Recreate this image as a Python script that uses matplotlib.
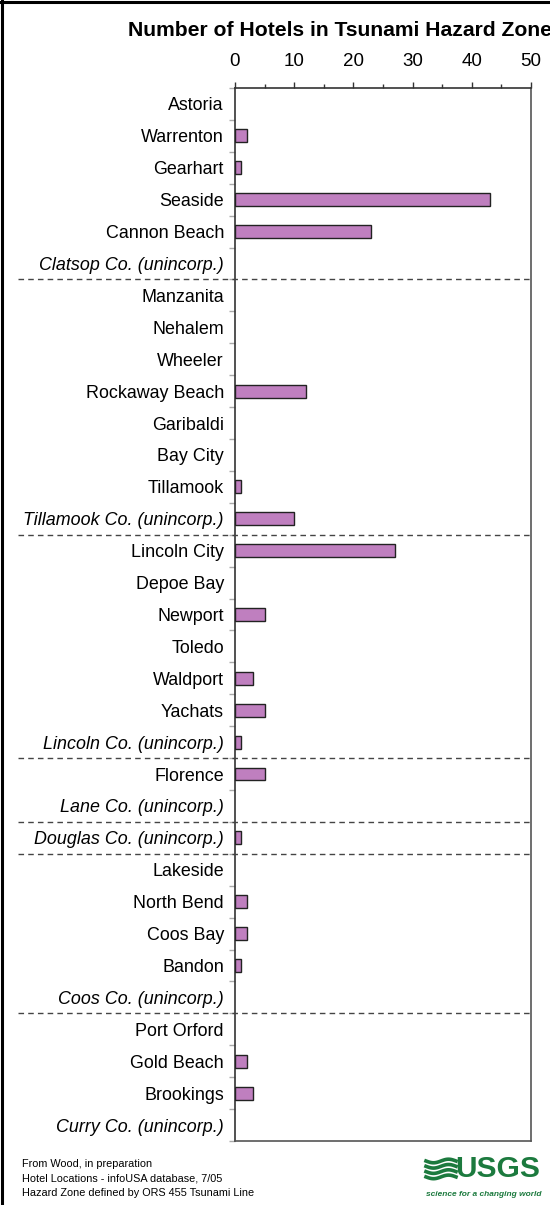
import matplotlib
matplotlib.use("Agg")
import matplotlib.pyplot as plt
import matplotlib.transforms as mtransforms
from matplotlib.lines import Line2D
import numpy as np

plt.rcParams['font.family'] = ['Liberation Sans', 'DejaVu Sans']

locations = ["Astoria", "Warrenton", "Gearhart", "Seaside", "Cannon Beach",
             "Clatsop Co. (unincorp.)",
             "Manzanita", "Nehalem", "Wheeler", "Rockaway Beach", "Garibaldi",
             "Bay City", "Tillamook", "Tillamook Co. (unincorp.)",
             "Lincoln City", "Depoe Bay", "Newport", "Toledo", "Waldport",
             "Yachats", "Lincoln Co. (unincorp.)",
             "Florence", "Lane Co. (unincorp.)",
             "Douglas Co. (unincorp.)",
             "Lakeside", "North Bend", "Coos Bay", "Bandon", "Coos Co. (unincorp.)",
             "Port Orford", "Gold Beach", "Brookings", "Curry Co. (unincorp.)"]
hotels = [0, 2, 1, 43, 23, 0,
          0, 0, 0, 12, 0, 0, 1, 10,
          27, 0, 5, 0, 3, 5, 1,
          5, 0,
          1,
          0, 2, 2, 1, 0,
          0, 2, 3, 0]
# index at which a new county group starts (dashed separator above it)
county_breaks = [6, 14, 21, 23, 24, 29]
x_ticks = [0, 10, 20, 30, 40, 50]

W, H = 550, 1205
fig = plt.figure(figsize=(W / 100, H / 100), dpi=100)

left, right, top, bottom = 235, 531, 88, 1141
ax = fig.add_axes([left / W, 1 - bottom / H, (right - left) / W, (bottom - top) / H])

n = len(locations)
y = np.arange(n)
lws = [1.0 if v > 0 else 0.0 for v in hotels]
ax.barh(y, hotels, height=0.4, color="#BF7FBF", edgecolor="#222222", linewidth=lws, zorder=3)
ax.set_ylim(n - 0.5, -0.5)
ax.set_xlim(0, 50)

ax.xaxis.tick_top()
ax.set_xticks(x_ticks)
ax.set_xticks(np.arange(5, 50, 10), minor=True)
ax.tick_params(axis='x', which='major', direction='out', length=4, width=1,
               color="#333333", labelsize=13.5, pad=9)
ax.tick_params(axis='x', which='minor', direction='out', length=3, width=1, color="#333333")

ax.set_yticks(y)
labels = ax.set_yticklabels(locations, fontsize=12.9)
for lab in labels:
    if "unincorp" in lab.get_text():
        lab.set_style("italic")
ax.tick_params(axis='y', which='major', length=0, pad=8)
ax.set_yticks(np.arange(-0.5, n, 1.0), minor=True)
ax.tick_params(axis='y', which='minor', direction='out', length=4, width=1, color="#aaaaaa")

for s in ax.spines.values():
    s.set_color("#333333")
    s.set_linewidth(1.2)
ax.spines['bottom'].set_color("#555555")
ax.spines['right'].set_color("#555555")

trans = mtransforms.blended_transform_factory(ax.transAxes, ax.transData)
x0 = (18 - left) / (right - left)
for b in county_breaks:
    ax.plot([x0, 1.0], [b - 0.5, b - 0.5], transform=trans, clip_on=False,
            color="#444444", linestyle=(0, (4, 3)), linewidth=1.0, zorder=4)

fig.text(128 / W, 1 - 30 / H, "Number of Hotels in Tsunami Hazard Zone",
         ha="left", va="center", fontsize=15.2, fontweight="bold")

foot = ["From Wood, in preparation",
        "Hotel Locations - infoUSA database, 7/05",
        "Hazard Zone defined by ORS 455 Tsunami Line"]
for i, t in enumerate(foot):
    fig.text(22 / W, 1 - (1164 + i * 14.5) / H, t, fontsize=7.8, va="center", ha="left")

green = "#1C7A3E"
fig.text(540 / W, 1 - 1169 / H, "USGS", fontsize=21.5, fontweight="bold", color=green,
         ha="right", va="center")
fig.text(541 / W, 1 - 1194 / H, "science for a changing world", fontsize=6,
         fontweight="bold", style="italic", color=green, ha="right", va="center")
# wave mark
for k in range(4):
    yy = 1161 + k * 5.3
    xs = np.linspace(426, 456, 25)
    ys = yy + 1.8 * np.sin((xs - 426) / 30 * 2 * np.pi)
    fig.add_artist(Line2D(xs / W, 1 - ys / H, color=green, linewidth=2.6))

# outer frame (left and top edges)
fig.add_artist(Line2D([2 / W, 2 / W], [0, 1], color="black", linewidth=2.2))
fig.add_artist(Line2D([0, 1], [1 - 1.5 / H, 1 - 1.5 / H], color="black", linewidth=2.2))

fig.savefig("out.png", dpi=100)
